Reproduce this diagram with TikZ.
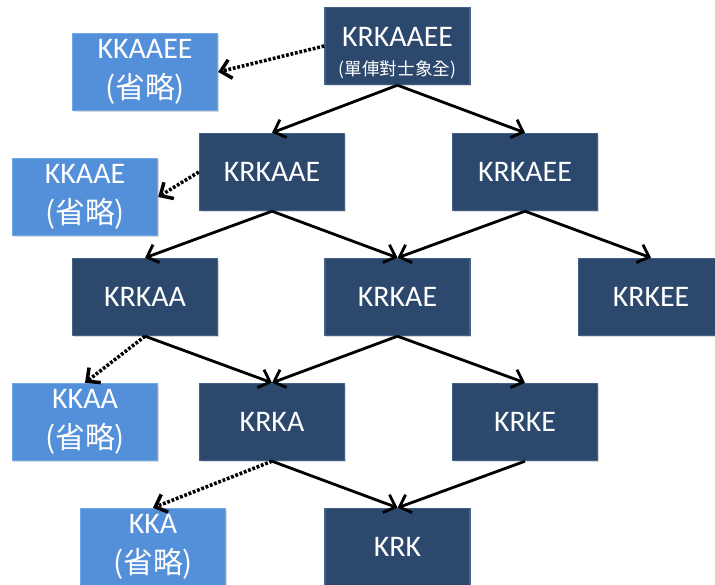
\documentclass[tikz,border=0pt]{standalone}
\usepackage{fontspec}
\setmainfont{Carlito}
\newfontfamily\cjk{Noto Sans CJK TC}
\usetikzlibrary{arrows.meta,shadows}
\definecolor{krkdark}{RGB}{44,72,108}
\definecolor{krkedge}{RGB}{66,98,138}
\definecolor{krklight}{RGB}{84,144,218}
\definecolor{krkledge}{RGB}{112,168,232}
\tikzset{
  egbox/.style={rectangle,minimum width=2.9cm,minimum height=1.54cm,inner sep=1pt,
    align=center,text=white,font=\fontsize{17}{23}\selectfont,line width=0.8pt,
    drop shadow={opacity=0.3,shadow xshift=0.6pt,shadow yshift=-0.8pt}},
  kept/.style={egbox,fill=krkdark,draw=krkedge},
  skipped/.style={egbox,fill=krklight,draw=krkledge},
  move/.style={-{Straight Barb[length=2mm,width=3.8mm]},line width=1.6pt},
  omit/.style={move,densely dotted,line width=2pt},
}
\begin{document}
\begin{tikzpicture}
\useasboundingbox (0,0) rectangle (14.3,11.7);
% full line
\node[kept](kFull) at (7.95,10.78){\rule{0pt}{19pt}KRKAAEE\\[-6pt]{\cjk\fontsize{10}{12}\selectfont(單俥對士象全)}};
\node[skipped](kFullS) at (2.9,10.26){KKAAEE\\{\cjk(省略)}};
% one defender gone
\node[kept](kNoE) at (5.44,8.26){KRKAAE};
\node[kept](kNoA) at (10.5,8.26){KRKAEE};
\node[skipped](kNoES) at (1.7,7.76){KKAAE\\{\cjk(省略)}};
% two gone
\node[kept](kAA) at (2.9,5.76){KRKAA};
\node[kept](kAE) at (7.95,5.76){KRKAE};
\node[kept](kEE) at (13.02,5.76){KRKEE};
% three gone
\node[kept](kA) at (5.44,3.26){KRKA};
\node[kept](kE) at (10.5,3.26){KRKE};
\node[skipped](kAAS) at (1.7,3.26){KKAA\\{\cjk(省略)}};
% bare king
\node[kept](kBare) at (7.95,0.76){KRK};
\node[skipped](kAS) at (3.06,0.76){KKA\\{\cjk(省略)}};

\draw[move](kFull.south)--(kNoE.north);
\draw[move](kFull.south)--(kNoA.north);
\draw[move](kNoE.south)--(kAA.north);
\draw[move](kNoE.south)--(kAE.north);
\draw[move](kNoA.south)--(kAE.north);
\draw[move](kNoA.south)--(kEE.north);
\draw[move](kAA.south)--(kA.north);
\draw[move](kAE.south)--(kA.north);
\draw[move](kAE.south)--(kE.north);
\draw[move](kA.south)--(kBare.north);
\draw[move](kE.south)--(kBare.north);

\draw[omit](kFull.west)--(kFullS.east);
\draw[omit](kNoE.west)--(kNoES.east);
\draw[omit](kAA.south)--(kAAS.north);
\draw[omit](kA.south)--(kAS.north);
\end{tikzpicture}
\end{document}
